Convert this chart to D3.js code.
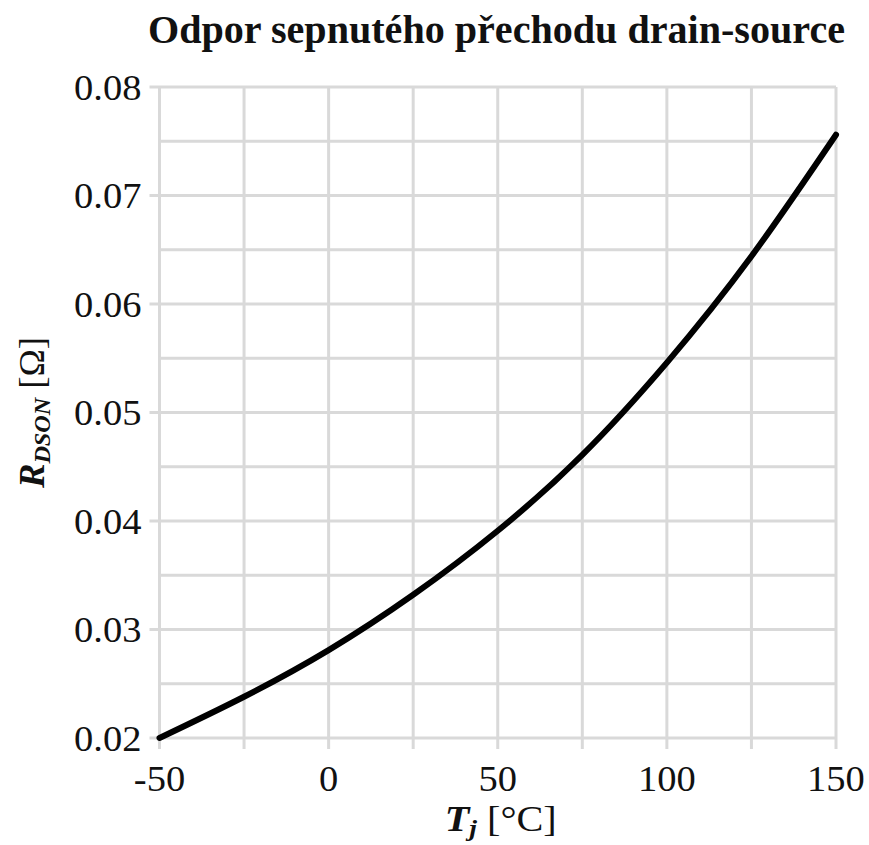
<!DOCTYPE html>
<html>
<head>
    <meta charset="UTF-8">
    <title>Odpor sepnutého přechodu drain-source</title>
    <script src="https://d3js.org/d3.v7.min.js"></script>
    <style>
        body { margin: 0; background: #fff; }
        text { font-family: "Liberation Serif", "DejaVu Serif", serif; fill: #111; }
        .title { font-size: 40px; font-weight: bold; }
        .tick-label { font-size: 36px; }
        .axis-title { font-size: 35px; }
    </style>
</head>
<body>
    <div id="chart"></div>
    <script>
        // data
        const temps = [-50, -25, 0, 25, 50, 75, 100, 125, 150];
        const rdson = [0.0200, 0.0238, 0.0281, 0.0332, 0.0391, 0.0461, 0.0546, 0.0644, 0.0756];
        const xTicks = [-50, 0, 50, 100, 150];
        const yTicks = [0.02, 0.03, 0.04, 0.05, 0.06, 0.07, 0.08];
        const xGrid = d3.range(-50, 151, 25);
        const yMinor = d3.range(0.025, 0.08, 0.01);

        const W = 869, H = 845;
        const margin = {top: 87, right: 33, bottom: 107, left: 159.5};
        const sx = 1.07; // the tick font in the original is a bit wider

        const svg = d3.select("#chart").append("svg")
            .attr("width", W)
            .attr("height", H);

        const x = d3.scaleLinear().domain([-50, 150]).range([margin.left, W - margin.right]);
        const y = d3.scaleLinear().domain([0.02, 0.08]).range([H - margin.bottom, margin.top]);

        const gridColor = "#d9d9d9";

        // vertical grid lines (reach below the plot like ticks)
        svg.append("g").selectAll("line")
            .data(xGrid)
            .join("line")
            .attr("x1", d => x(d)).attr("x2", d => x(d))
            .attr("y1", y(0.08)).attr("y2", y(0.02) + 11)
            .attr("stroke", gridColor).attr("stroke-width", 3);

        // minor horizontal lines
        svg.append("g").selectAll("line")
            .data(yMinor)
            .join("line")
            .attr("x1", x(-50)).attr("x2", x(150))
            .attr("y1", d => y(d)).attr("y2", d => y(d))
            .attr("stroke", gridColor).attr("stroke-width", 3);

        // major horizontal lines (extend left as ticks)
        svg.append("g").selectAll("line")
            .data(yTicks)
            .join("line")
            .attr("x1", x(-50) - 10).attr("x2", x(150))
            .attr("y1", d => y(d)).attr("y2", d => y(d))
            .attr("stroke", gridColor).attr("stroke-width", 3);

        // y tick labels
        svg.append("g").selectAll("text")
            .data(yTicks)
            .join("text")
            .attr("class", "tick-label")
            .attr("transform", d => `translate(${x(-50) - 18},${y(d)}) scale(${sx},1)`)
            .attr("dy", "0.35em")
            .attr("text-anchor", "end")
            .text(d => d.toFixed(2));

        // x tick labels
        svg.append("g").selectAll("text")
            .data(xTicks)
            .join("text")
            .attr("class", "tick-label")
            .attr("transform", d => `translate(${x(d)},${y(0.02) + 53}) scale(${sx},1)`)
            .attr("text-anchor", "middle")
            .text(d => d);

        // curve
        const line = d3.line()
            .x((d, i) => x(temps[i]))
            .y(d => y(d))
            .curve(d3.curveNatural);

        svg.append("path")
            .datum(rdson)
            .attr("d", line)
            .attr("fill", "none")
            .attr("stroke", "#000")
            .attr("stroke-width", 6)
            .attr("stroke-linecap", "round");

        // title
        svg.append("text")
            .attr("class", "title")
            .attr("x", 148)
            .attr("y", 43)
            .attr("textLength", 697)
            .attr("lengthAdjust", "spacingAndGlyphs")
            .text("Odpor sepnutého přechodu drain-source");

        // x axis title
        const xt = svg.append("text")
            .attr("class", "axis-title")
            .attr("transform", `translate(${(x(-50) + x(150)) / 2 + 3},831) scale(1.15,1)`)
            .attr("text-anchor", "middle");
        xt.append("tspan").attr("font-weight", "bold").attr("font-style", "italic").text("T");
        xt.append("tspan").attr("font-weight", "bold").attr("font-style", "italic")
            .attr("font-size", "24px").attr("dy", 5).text("j");
        xt.append("tspan").attr("dy", -5).text(" [°C]");

        // y axis title
        const yt = svg.append("text")
            .attr("class", "axis-title")
            .attr("transform", `translate(44,${(y(0.02) + y(0.08)) / 2}) rotate(-90) scale(1.05,1)`)
            .attr("text-anchor", "middle");
        yt.append("tspan").attr("font-weight", "bold").attr("font-style", "italic").text("R");
        yt.append("tspan").attr("font-weight", "bold").attr("font-style", "italic")
            .attr("font-size", "23px").attr("dy", 6).text("DSON");
        yt.append("tspan").attr("dy", -6).text(" [Ω]");
    </script>
</body>
</html>
